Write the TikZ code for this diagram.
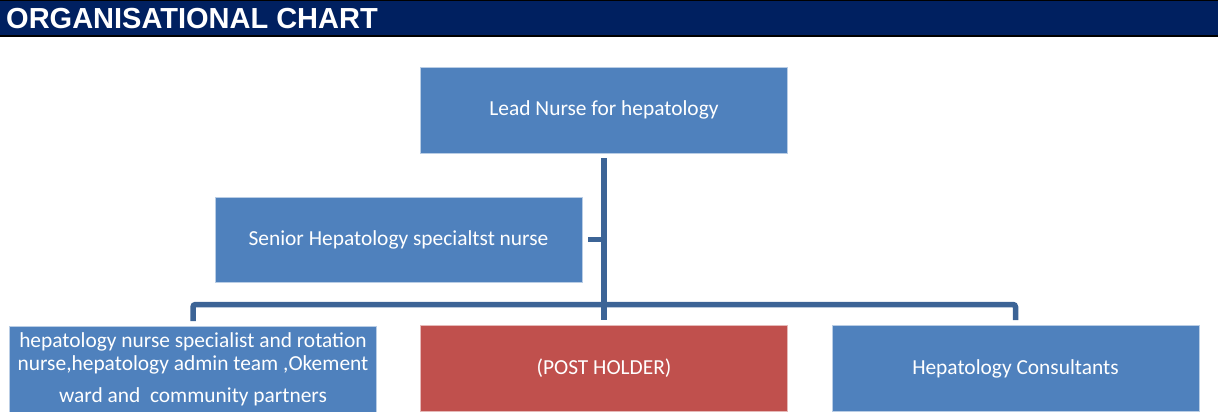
\documentclass[tikz,border=0pt]{standalone}
\usepackage{fontspec}
\setmainfont{Carlito}
\newfontfamily\headfont{Liberation Sans}
\usetikzlibrary{calc}
\definecolor{navy}{HTML}{002060}
\definecolor{boxblue}{HTML}{4F81BD}
\definecolor{boxedge}{HTML}{B9CDE5}
\definecolor{boxred}{HTML}{C0504D}
\definecolor{rededge}{HTML}{E6B9B8}
\definecolor{connblue}{HTML}{3C6496}
\tikzset{
  orgbox/.style={rectangle, fill=boxblue, draw=boxedge, line width=0.8pt,
    minimum width=367pt, minimum height=86pt, inner sep=0pt, text=white,
    font=\fontsize{21.4}{22.3}\selectfont, align=center},
  redbox/.style={orgbox, fill=boxred, draw=rededge},
  conn/.style={draw=connblue, line width=5.5pt},
}
\begin{document}
\begin{tikzpicture}[x=1pt,y=-1pt]
\useasboundingbox (0,0) rectangle (1218,412);
% header band
\fill[navy] (0,0) rectangle (1218,37);
\fill[black] (0,0) rectangle (1218,1.5);
\fill[black] (0,35) rectangle (1218,37.5);
\node[anchor=west, text=white, inner sep=0pt, font=\headfont\bfseries\fontsize{29}{31}\selectfont] (title) at (6,19) {ORGANISATIONAL CHART};
% boxes
\node[orgbox] (lead) at (604,110) {Lead Nurse for hepatology};
\node[orgbox, minimum height=85pt] (senior) at (398.5,239.5) {Senior Hepatology specialtst nurse};
\node[orgbox] (left) at (193,369.5) {hepatology nurse specialist and rotation\\nurse,hepatology admin team ,Okement\\[10.4pt]ward and\ \ community partners};
\node[redbox] (post) at (604,368.5) {(POST HOLDER)};
\node[orgbox] (right) at (1015.5,368.5) {Hepatology Consultants};
\coordinate (bar) at (604,304.5);
% connectors
\draw[conn, shorten <=5pt, shorten >=5pt] (lead.south) -- (post.north);
\draw[conn, rounded corners=2.5pt, shorten <=5pt, shorten >=5pt] (left.north) |- (bar) -| (right.north);
\draw[conn, shorten <=6pt] (senior.east) -- (senior.east -| lead.south);
\end{tikzpicture}
\end{document}
